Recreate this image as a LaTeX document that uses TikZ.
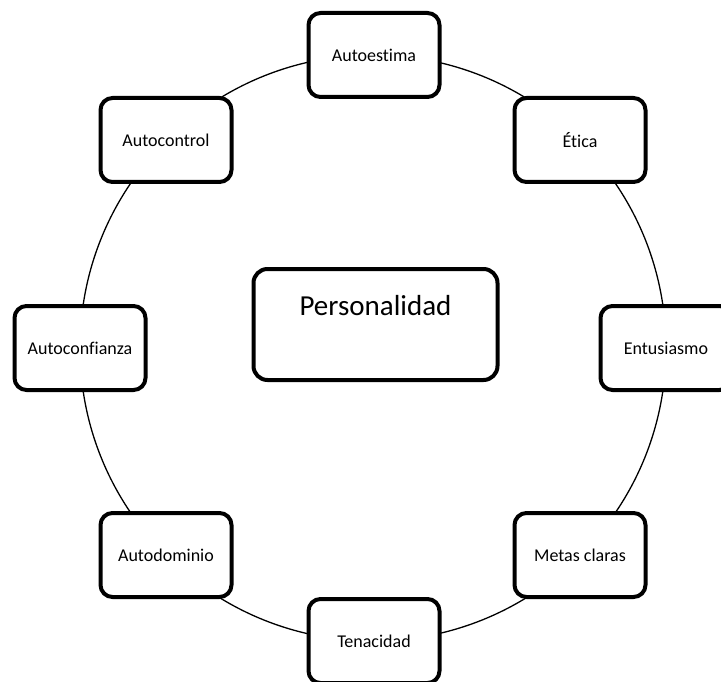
\documentclass[tikz,border=0pt]{standalone}
\usepackage{fontspec}
\setmainfont{Carlito}[Ligatures=NoCommon]
\begin{document}
\begin{tikzpicture}[x=1pt,y=-1pt,
  item/.style={draw=black, fill=white, line width=4pt, rounded corners=12pt,
    minimum width=131pt, minimum height=84pt, inner sep=0pt, font=\fontsize{18}{21}\selectfont},
  core/.style={draw=black, fill=white, line width=4pt, rounded corners=14pt,
    minimum width=244pt, inner sep=0pt, text height=46pt, text depth=65pt,
    font=\fontsize{29}{34}\selectfont}]
\clip (0,0) rectangle (721,682);
\fill[white] (0,0) rectangle (721,682);
\node[circle, draw=black, line width=1.3pt, minimum size=586pt, inner sep=0pt] (ring) at (373,348) {};
\node[item] (autoestima) at (374,55) {Autoestima};
\node[item] (etica) at (580,140) {Ética};
\node[item] (entusiasmo) at (666,348) {Entusiasmo};
\node[item] (metas) at (580,555) {Metas claras};
\node[item] (tenacidad) at (374,641) {Tenacidad};
\node[item] (autodominio) at (166,555) {Autodominio};
\node[item] (autoconfianza) at (80,348) {Autoconfianza};
\node[item] (autocontrol) at (166,140) {Autocontrol};
\node[core] (personalidad) at (375.5,324.5) {Personalidad};
\end{tikzpicture}
\end{document}
